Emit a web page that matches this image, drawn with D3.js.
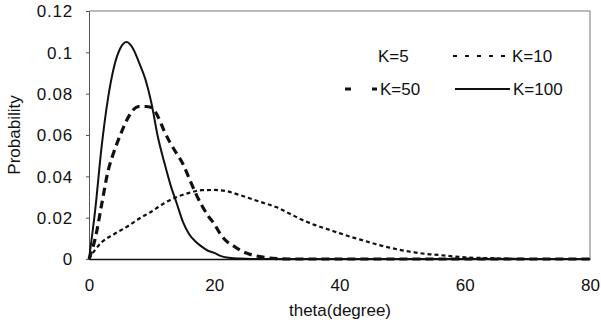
<!DOCTYPE html>
<html><head><meta charset="utf-8">
<script src="https://cdn.jsdelivr.net/npm/d3@7"></script>
<style>body{margin:0;background:#fff}svg text{font-family:"Liberation Sans",Arial,sans-serif;fill:#111}</style>
</head><body><svg id="c" width="601" height="329"></svg>
<script>
const xTicks = [0, 20, 40, 60, 80];
const yTicks = [0, 0.02, 0.04, 0.06, 0.08, 0.1, 0.12];
const yTickLabels = ["0", "0.02", "0.04", "0.06", "0.08", "0.1", "0.12"];
const xLabel = "theta(degree)";
const yLabel = "Probability";

const k10Theta = [0,1,2,4,6,8,10,12,14,16,18,20,22,24,26,28,30,32,34,36,38,40,42,44,46,48,50,52,54,56,58,60,64,68,70,80];
const k10Prob  = [0,0.0045,0.008,0.012,0.0155,0.0195,0.023,0.027,0.030,0.032,0.0333,0.0334,0.0328,0.031,0.029,0.027,0.025,0.022,0.019,0.0165,0.0145,0.0125,0.0105,0.0088,0.007,0.0055,0.0042,0.0032,0.0024,0.0019,0.0013,0.0008,0.0004,0.0001,0,0];

const k50Theta = [0,1,2,3,4,5,6,7,8,9,10,11,12,13,14,15,16,17,18,19,20,21,22,23,24,25,26,28,30,32,80];
const k50Prob  = [0,0.01,0.026,0.042,0.052,0.060,0.067,0.072,0.0738,0.0738,0.0733,0.069,0.062,0.056,0.051,0.046,0.039,0.032,0.026,0.021,0.017,0.012,0.0085,0.0065,0.0045,0.003,0.002,0.0008,0.0002,0,0];

const k100Theta = [0,1,2,3,4,5,6,7,8,9,10,11,12,13,14,15,16,17,18,19,20,21,22,24,26,80];
const k100Prob  = [0,0.024,0.054,0.077,0.093,0.102,0.105,0.102,0.095,0.087,0.075,0.059,0.047,0.036,0.027,0.018,0.012,0.0085,0.006,0.004,0.003,0.0015,0.0007,0.0002,0,0];

const legendNames = ["K=5", "K=10", "K=50", "K=100"];

const svg = d3.select("#c");
const L = 89, R = 590, T = 11, B = 259;
const x = d3.scaleLinear().domain([0, 80]).range([L, R]);
const y = d3.scaleLinear().domain([0, 0.12]).range([B, T]);
const FS = "17px";

// frame
svg.append("line").attr("x1", L).attr("x2", R).attr("y1", T).attr("y2", T).attr("stroke", "#777").attr("stroke-width", 1);
svg.append("line").attr("x1", R).attr("x2", R).attr("y1", T).attr("y2", B).attr("stroke", "#777").attr("stroke-width", 1);

// y axis
const yAxis = d3.axisLeft(y).tickValues(yTicks).tickSize(3).tickFormat((d, i) => yTickLabels[i]);
const gy = svg.append("g").attr("transform", `translate(${L},0)`).call(yAxis);
gy.select(".domain").attr("stroke", "#555");
gy.selectAll(".tick line").attr("stroke", "#555");
gy.selectAll("text").attr("x", -16).style("font-size", FS).style("letter-spacing", "0.8px").attr("dy", "0.35em");

// x axis
const xAxis = d3.axisBottom(x).tickValues(xTicks).tickSize(0).tickFormat(d3.format("d"));
const gx = svg.append("g").attr("transform", `translate(0,${B})`).call(xAxis);
gx.select(".domain").attr("stroke", "#111").attr("stroke-width", 1.5);
gx.selectAll("text").attr("y", 20).style("font-size", FS).attr("dy", "0.7em");

svg.append("text").attr("x", 340).attr("y", 316).attr("text-anchor", "middle").style("font-size", FS).text(xLabel);
svg.append("text").attr("transform", "translate(20,135) rotate(-90)").attr("text-anchor", "middle").style("font-size", FS).text(yLabel);

const line = d3.line().x(d => x(d[0])).y(d => y(d[1])).curve(d3.curveMonotoneX);
const styles = {
  k10: {w: 2.2, dash: "4,3"},
  k50: {w: 3.2, dash: "8,5"},
  k100: {w: 2, dash: null}
};
function draw(th, pr, st) {
  const p = svg.append("path").datum(th.map((t, i) => [t, pr[i]]))
    .attr("d", line).attr("fill", "none").attr("stroke", "#111")
    .attr("stroke-width", st.w).attr("stroke-linejoin", "round");
  if (st.dash) p.attr("stroke-dasharray", st.dash);
}
draw(k10Theta, k10Prob, styles.k10);
draw(k50Theta, k50Prob, styles.k50);
draw(k100Theta, k100Prob, styles.k100);

// legend
const leg = [
  {name: legendNames[0], x1: 345, x2: 375, ty: 62, st: null},
  {name: legendNames[1], x1: 453, x2: 509, ty: 62, st: styles.k10},
  {name: legendNames[2], x1: 345, x2: 377, ty: 95, st: styles.k50},
  {name: legendNames[3], x1: 455, x2: 510, ty: 95, st: styles.k100}
];
leg.forEach(e => {
  if (e.st) {
    const ln = svg.append("line").attr("x1", e.x1).attr("x2", e.x2).attr("y1", e.ty - 6).attr("y2", e.ty - 6)
      .attr("stroke", "#111").attr("stroke-width", e.st.w);
    if (e.st.dash) ln.attr("stroke-dasharray", e.st === styles.k50 ? "6,21" : "4,8");
  }
  svg.append("text").attr("x", e.x2 + 3).attr("y", e.ty).style("font-size", FS).text(e.name);
});
</script></body></html>
